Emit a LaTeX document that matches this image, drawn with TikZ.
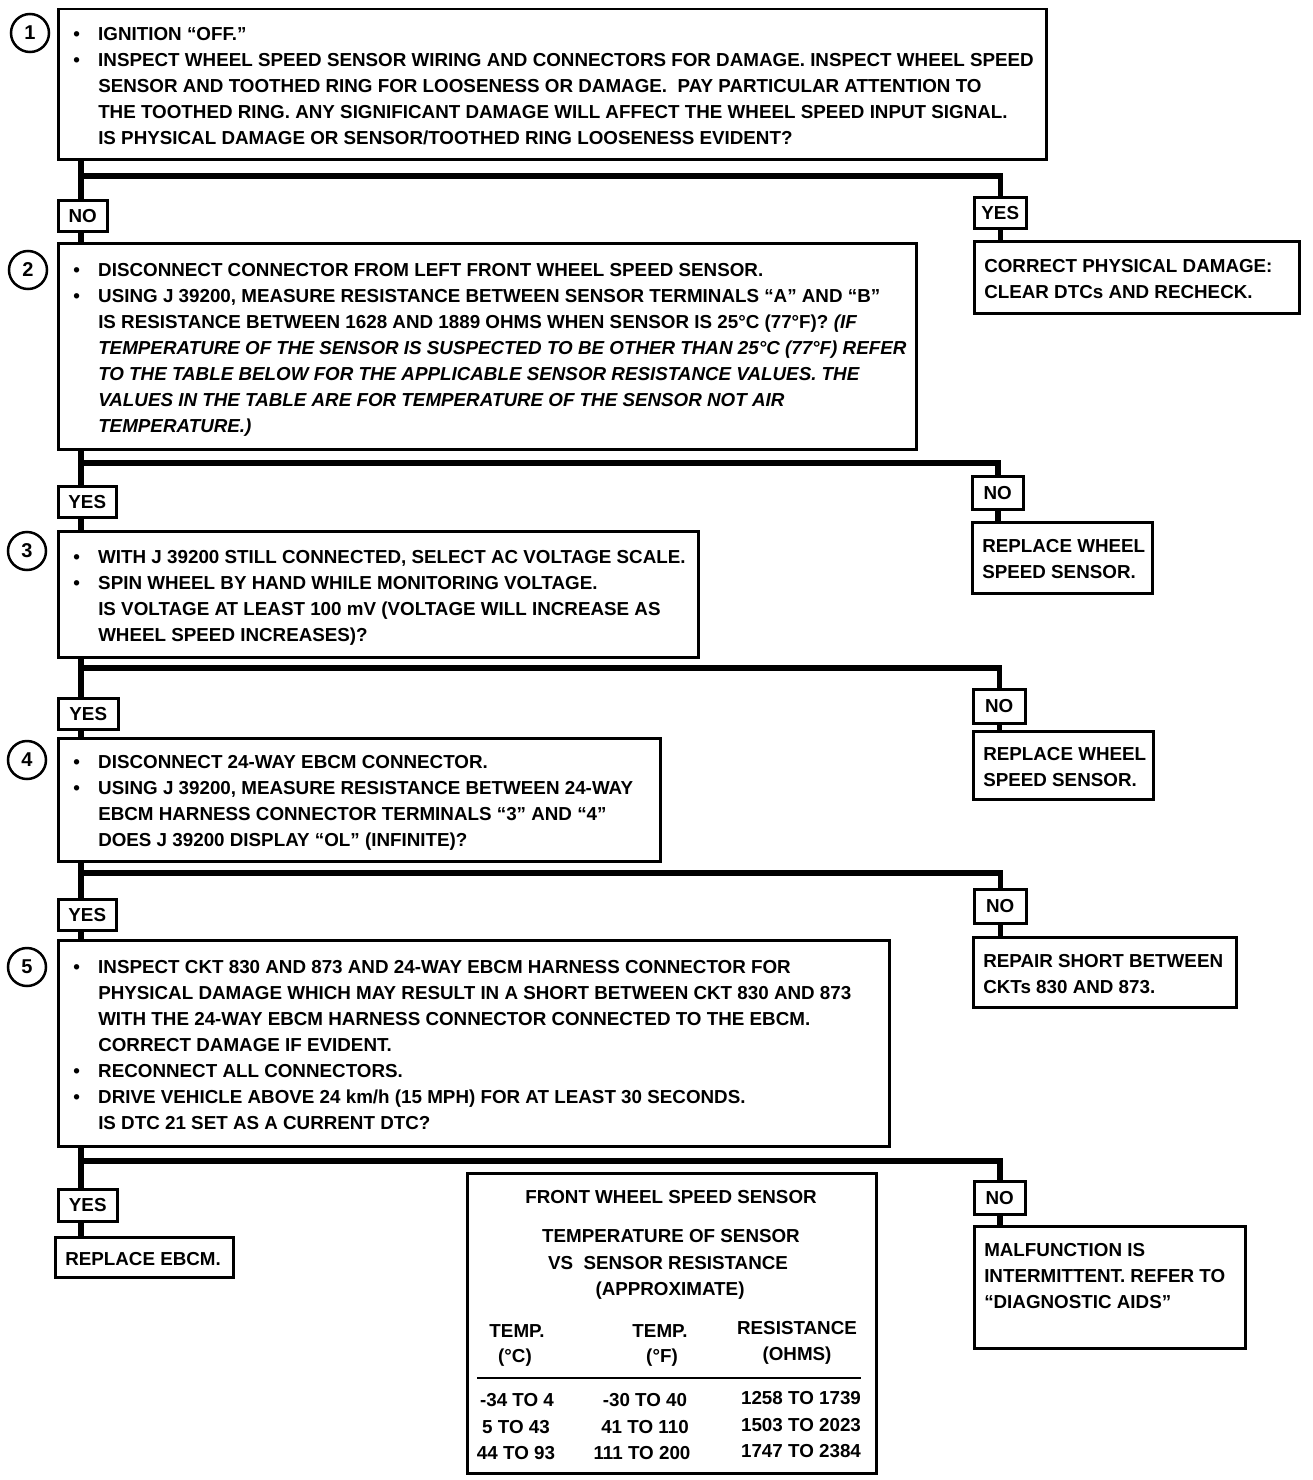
\documentclass[tikz,border=0pt]{standalone}
\usepackage{fontspec}
\setmainfont{Liberation Sans}
\newcommand{\bul}{\makebox[25pt][l]{•}}
\newcommand{\ind}{\hspace*{25pt}}
\newcommand{\txtlines}[2]{\makebox[#1][l]{\raisebox{-3pt}[\height][\depth]{\begin{tabular}{@{}l@{}}#2\end{tabular}}}}
\begin{document}
\begin{tikzpicture}[x=1pt,y=-1pt,
  txt/.style={font=\bfseries\fontsize{18.8}{26}\selectfont},
  stepbox/.style={txt, draw, line width=2.5pt, anchor=north west, inner xsep=15pt, inner ysep=0pt},
  lbl/.style={txt, draw, line width=2.5pt, anchor=north west, inner sep=0pt, align=center},
  res/.style={txt, draw, line width=2.5pt, anchor=north west, inner xsep=10pt, inner ysep=0pt},
  num/.style={draw, circle, line width=2.5pt, minimum size=38pt, inner sep=0pt, font=\bfseries\fontsize{20}{20}\selectfont},
  link/.style={line width=5.5pt, line join=miter},
  tcell/.style={txt, inner sep=0pt, text height=13.5pt, text depth=0pt},
]
\useasboundingbox (0,0) rectangle (1312,1480);
\coordinate (sL) at (81,0);

% step 1
\node[num] (c1) at (30,33) {1};
\node[stepbox, minimum width=988pt, minimum height=150pt] (b1) at (57,8) {\txtlines{958pt}{%
\bul IGNITION “OFF.”\\
\bul INSPECT WHEEL SPEED SENSOR WIRING AND CONNECTORS FOR DAMAGE. INSPECT WHEEL SPEED\\
\ind SENSOR AND TOOTHED RING FOR LOOSENESS OR DAMAGE.\ \ PAY PARTICULAR ATTENTION TO\\
\ind THE TOOTHED RING. ANY SIGNIFICANT DAMAGE WILL AFFECT THE WHEEL SPEED INPUT SIGNAL.\\
\ind IS PHYSICAL DAMAGE OR SENSOR/TOOTHED RING LOOSENESS EVIDENT?}};
\node[lbl, minimum width=49pt, minimum height=31pt] (n1) at (57,199) {NO};
\node[lbl, minimum width=52pt, minimum height=31pt] (y1) at (973,196) {YES};
\node[res, minimum width=325pt, minimum height=72pt] (r1) at (973,240) {\txtlines{305pt}{%
CORRECT PHYSICAL DAMAGE:\\
CLEAR DTCs AND RECHECK.}};
\coordinate (k1) at (81,176);

% step 2
\node[num] (c2) at (28,270) {2};
\node[stepbox, minimum width=858pt, minimum height=206pt] (b2) at (57,242) {\txtlines{828pt}{%
\bul DISCONNECT CONNECTOR FROM LEFT FRONT WHEEL SPEED SENSOR.\\
\bul USING J 39200, MEASURE RESISTANCE BETWEEN SENSOR TERMINALS “A” AND “B”\\
\ind IS RESISTANCE BETWEEN 1628 AND 1889 OHMS WHEN SENSOR IS 25°C (77°F)? {\itshape (IF}\\
\ind \itshape TEMPERATURE OF THE SENSOR IS SUSPECTED TO BE OTHER THAN 25°C (77°F) REFER\\
\ind \itshape TO THE TABLE BELOW FOR THE APPLICABLE SENSOR RESISTANCE VALUES. THE\\
\ind \itshape VALUES IN THE TABLE ARE FOR TEMPERATURE OF THE SENSOR NOT AIR\\
\ind \itshape TEMPERATURE.)}};
\node[lbl, minimum width=58pt, minimum height=31pt] (y2) at (57,485) {YES};
\node[lbl, minimum width=51pt, minimum height=33pt] (n2) at (971,475) {NO};
\node[res, minimum width=180pt, minimum height=71pt] (r2) at (971,521) {\txtlines{160pt}{%
REPLACE WHEEL\\
SPEED SENSOR.}};
\coordinate (k2) at (81,463);

% step 3
\node[num] (c3) at (27,551) {3};
\node[stepbox, minimum width=640pt, minimum height=126pt] (b3) at (57,530) {\txtlines{610pt}{%
\bul WITH J 39200 STILL CONNECTED, SELECT AC VOLTAGE SCALE.\\
\bul SPIN WHEEL BY HAND WHILE MONITORING VOLTAGE.\\
\ind IS VOLTAGE AT LEAST 100 mV (VOLTAGE WILL INCREASE AS\\
\ind WHEEL SPEED INCREASES)?}};
\node[lbl, minimum width=60pt, minimum height=31pt] (y3) at (57,697) {YES};
\node[lbl, minimum width=52pt, minimum height=34pt] (n3) at (972,688) {NO};
\node[res, minimum width=180pt, minimum height=68pt] (r3) at (972,730) {\txtlines{160pt}{%
REPLACE WHEEL\\
SPEED SENSOR.}};
\coordinate (k3) at (81,668);

% step 4
\node[num] (c4) at (27,760) {4};
\node[stepbox, minimum width=602pt, minimum height=123pt] (b4) at (57,737) {\txtlines{572pt}{%
\bul DISCONNECT 24-WAY EBCM CONNECTOR.\\
\bul USING J 39200, MEASURE RESISTANCE BETWEEN 24-WAY\\
\ind EBCM HARNESS CONNECTOR TERMINALS “3” AND “4”\\
\ind DOES J 39200 DISPLAY “OL” (INFINITE)?}};
\node[lbl, minimum width=58pt, minimum height=31pt] (y4) at (57,898) {YES};
\node[lbl, minimum width=52pt, minimum height=34pt] (n4) at (973,888) {NO};
\node[res, minimum width=263pt, minimum height=70pt] (r4) at (972,936) {\txtlines{243pt}{%
REPAIR SHORT BETWEEN\\
CKTs 830 AND 873.}};
\coordinate (k4) at (81,873);

% step 5
\node[num] (c5) at (27,967) {5};
\node[stepbox, minimum width=831pt, minimum height=206pt] (b5) at (57,939) {\txtlines{801pt}{%
\bul INSPECT CKT 830 AND 873 AND 24-WAY EBCM HARNESS CONNECTOR FOR\\
\ind PHYSICAL DAMAGE WHICH MAY RESULT IN A SHORT BETWEEN CKT 830 AND 873\\
\ind WITH THE 24-WAY EBCM HARNESS CONNECTOR CONNECTED TO THE EBCM.\\
\ind CORRECT DAMAGE IF EVIDENT.\\
\bul RECONNECT ALL CONNECTORS.\\
\bul DRIVE VEHICLE ABOVE 24 km/h (15 MPH) FOR AT LEAST 30 SECONDS.\\
\ind IS DTC 21 SET AS A CURRENT DTC?}};
\node[lbl, minimum width=59pt, minimum height=32pt] (y5) at (57,1188) {YES};
\node[lbl, minimum width=51pt, minimum height=33pt] (n5) at (973,1180) {NO};
\node[res, minimum width=178pt, minimum height=40pt] (e5) at (54,1236) {\txtlines{158pt}{%
REPLACE EBCM.}};
\node[res, minimum width=271pt, minimum height=122pt] (r5) at (973,1225) {\txtlines{251pt}{%
MALFUNCTION IS\\
INTERMITTENT. REFER TO\\
“DIAGNOSTIC AIDS”\\
\mbox{}}};
\coordinate (k5) at (81,1161);

% connectors
\draw[link] (b1.south -| sL) -- (n1.north -| sL);
\draw[link] (k1) -| (y1.north);
\draw[link] (n1.south -| sL) -- (b2.north -| sL);
\draw[link] (y1.south) -- (y1.south |- r1.north);

\draw[link] (b2.south -| sL) -- (y2.north -| sL);
\draw[link] (k2) -| (n2.north);
\draw[link] (y2.south -| sL) -- (b3.north -| sL);
\draw[link] (n2.south) -- (n2.south |- r2.north);

\draw[link] (b3.south -| sL) -- (y3.north -| sL);
\draw[link] (k3) -| (n3.north);
\draw[link] (y3.south -| sL) -- (b4.north -| sL);
\draw[link] (n3.south) -- (n3.south |- r3.north);

\draw[link] (b4.south -| sL) -- (y4.north -| sL);
\draw[link] (k4) -| (n4.north);
\draw[link] (y4.south -| sL) -- (b5.north -| sL);
\draw[link] (n4.south) -- (n4.south |- r4.north);

\draw[link] (b5.south -| sL) -- (y5.north -| sL);
\draw[link] (k5) -| (n5.north);
\draw[link] (y5.south -| sL) -- (e5.north -| sL);
\draw[link] (n5.south) -- (n5.south |- r5.north);

% table
\node[draw, line width=2.5pt, anchor=north west, minimum width=409pt, minimum height=300pt, inner sep=0pt] (tbl) at (466,1172) {};
\node[tcell] (tt1) at (671,1197) {FRONT WHEEL SPEED SENSOR};
\node[tcell] (tt2) at (671,1236) {TEMPERATURE OF SENSOR};
\node[tcell] (tt3) at (668,1263) {VS\ \ SENSOR RESISTANCE};
\node[tcell] (tt4) at (670,1289) {(APPROXIMATE)};
\node[tcell] (h1a) at (517,1331) {TEMP.};
\node[tcell] (h1b) at (515,1356) {(°C)};
\node[tcell] (h2a) at (660,1331) {TEMP.};
\node[tcell] (h2b) at (662,1356) {(°F)};
\node[tcell] (h3a) at (797,1328) {RESISTANCE};
\node[tcell] (h3b) at (797,1354) {(OHMS)};
\draw[line width=2.5pt] (477,1378) -- (861,1378);
\node[tcell] (d11) at (517,1400) {-34 TO 4};
\node[tcell] (d21) at (516,1427) {5 TO 43};
\node[tcell] (d31) at (516,1453) {44 TO 93};
\node[tcell] (d12) at (645,1400) {-30 TO 40};
\node[tcell] (d22) at (645,1427) {41 TO 110};
\node[tcell] (d32) at (642,1453) {111 TO 200};
\node[tcell] (d13) at (801,1398) {1258 TO 1739};
\node[tcell] (d23) at (801,1425) {1503 TO 2023};
\node[tcell] (d33) at (801,1451) {1747 TO 2384};
\end{tikzpicture}
\end{document}
